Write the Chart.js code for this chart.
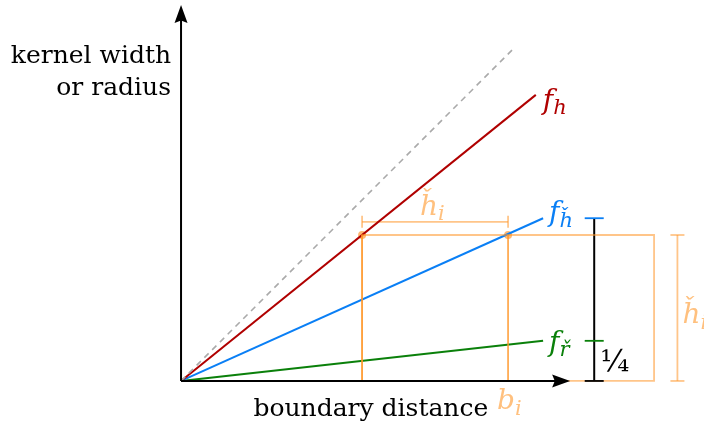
<!DOCTYPE html>
<html>
<head>
<meta charset="utf-8">
<script src="https://cdn.jsdelivr.net/npm/chart.js@4"></script>
<style>
  body { margin: 0; background: #fff; }
  canvas { display: block; }
</style>
</head>
<body>
<canvas id="chart" width="704" height="423"></canvas>
<script>
// values in units of the kernel width h-check (= 1)
const hCheck = 1;
const bI = 2.24;
const boxLeft = bI - hCheck;
const boxRight = 3.24;

const diagX = [0, 2.27];
const diagY = [0, 2.27];
const fhX = [0, 2.43];
const fhY = [0, 1.96];
const fhCheckX = [0, 2.48];
const fhCheckY = [0, 1.115];
const frCheckX = [0, 2.48];
const frCheckY = [0, 0.275];

const boxX = [boxLeft, boxRight, boxRight, boxLeft, boxLeft];
const boxY = [0, 0, hCheck, hCheck, 0];
const bLineX = [bI, bI];
const bLineY = [0, hCheck];
const markX = [boxLeft, bI];
const markY = [hCheck, hCheck];

const topBracketY = 1.09;
const rightBracketX = 3.40;
const ratioBracketX = 2.83;

const COLOR_RED = "#b00000";
const COLOR_BLUE = "#0a7ff5";
const COLOR_GREEN = "#0a800a";
const COLOR_ORANGE = "rgba(255,150,40,0.55)";
const COLOR_ORANGE_DARK = "rgba(255,150,40,0.8)";
const COLOR_GRAY = "#aaaaaa";
const SERIF = '"DejaVu Serif", "Liberation Serif", serif';

function pts(xs, ys) {
    return xs.map((x, i) => ({ x: x, y: ys[i] }));
}

function line(xs, ys, color, width, extra) {
    return Object.assign({
        data: pts(xs, ys),
        borderColor: color,
        backgroundColor: color,
        borderWidth: width,
        pointRadius: 0,
        showLine: true,
        fill: false,
        tension: 0
    }, extra || {});
}

let datasets = [
    line(boxX, boxY, COLOR_ORANGE, 1.8),
    line(bLineX, bLineY, COLOR_ORANGE_DARK, 1.8),
    line([boxLeft, boxLeft], [0, hCheck], COLOR_ORANGE_DARK, 1.8),
    line(diagX, diagY, COLOR_GRAY, 1.6, { borderDash: [6, 5] }),
    line(fhX, fhY, COLOR_RED, 2),
    line(fhCheckX, fhCheckY, COLOR_BLUE, 2),
    line(frCheckX, frCheckY, COLOR_GREEN, 2),
    // brackets
    line([boxLeft, bI], [topBracketY, topBracketY], COLOR_ORANGE, 1.8),
    line([rightBracketX, rightBracketX], [0, hCheck], COLOR_ORANGE, 1.8),
    line([ratioBracketX, ratioBracketX], [0, fhCheckY[1]], "#000", 2),
    // marked points
    { data: pts(markX, markY), showLine: false, pointRadius: 4, borderWidth: 0,
      backgroundColor: "rgba(255,160,70,0.75)" }
];

// tick ends of the brackets, half width in pixels
const bracketTicks = [
    { x: boxLeft, y: topBracketY, dir: "v", half: 6, color: COLOR_ORANGE },
    { x: bI, y: topBracketY, dir: "v", half: 6, color: COLOR_ORANGE },
    { x: rightBracketX, y: 0, dir: "h", half: 7, color: COLOR_ORANGE },
    { x: rightBracketX, y: hCheck, dir: "h", half: 7, color: COLOR_ORANGE },
    { x: ratioBracketX, y: fhCheckY[1], dir: "h", half: 9.5, color: COLOR_BLUE },
    { x: ratioBracketX, y: frCheckY[1], dir: "h", half: 9.5, color: COLOR_GREEN },
    { x: ratioBracketX, y: 0, dir: "h", half: 9.5, color: "#000" }
];

function arrowHead(ctx, x, y, dx, dy) {
    let len = 18, w = 6.5;
    let px = -dy, py = dx;
    ctx.beginPath();
    ctx.moveTo(x, y);
    ctx.lineTo(x - dx * len + px * w, y - dy * len + py * w);
    ctx.lineTo(x - dx * len * 0.85, y - dy * len * 0.85);
    ctx.lineTo(x - dx * len - px * w, y - dy * len - py * w);
    ctx.closePath();
    ctx.fill();
}

function mathLabel(ctx, x, y, base, sub, color, size) {
    ctx.fillStyle = color;
    ctx.textAlign = "left";
    ctx.textBaseline = "alphabetic";
    ctx.font = "italic " + size + "px " + SERIF;
    ctx.fillText(base, x, y);
    let w = ctx.measureText(base).width;
    ctx.font = "italic " + Math.round(size * 0.75) + "px " + SERIF;
    ctx.fillText(sub, x + w, y + size * 0.2);
}

const overlay = {
    id: "overlay",
    afterDatasetsDraw(chart) {
        const ctx = chart.ctx;
        const xs = chart.scales.x, ys = chart.scales.y;
        const X = v => xs.getPixelForValue(v);
        const Y = v => ys.getPixelForValue(v);
        ctx.save();

        bracketTicks.forEach(t => {
            ctx.strokeStyle = t.color;
            ctx.lineWidth = 1.8;
            ctx.beginPath();
            if (t.dir === "h") {
                ctx.moveTo(X(t.x) - t.half, Y(t.y));
                ctx.lineTo(X(t.x) + t.half, Y(t.y));
            } else {
                ctx.moveTo(X(t.x), Y(t.y) - t.half);
                ctx.lineTo(X(t.x), Y(t.y) + t.half);
            }
            ctx.stroke();
        });

        // axes
        let ox = X(0), oy = Y(0);
        let xEnd = X(2.665), yEnd = Y(2.575);
        ctx.strokeStyle = "#000";
        ctx.fillStyle = "#000";
        ctx.lineWidth = 2;
        ctx.beginPath();
        ctx.moveTo(ox, oy); ctx.lineTo(xEnd - 10, oy);
        ctx.moveTo(ox, oy); ctx.lineTo(ox, yEnd + 10);
        ctx.stroke();
        arrowHead(ctx, xEnd, oy, 1, 0);
        arrowHead(ctx, ox, yEnd, 0, -1);

        // axis titles
        ctx.font = "25px " + SERIF;
        ctx.textAlign = "right";
        ctx.textBaseline = "alphabetic";
        ctx.fillText("kernel width", ox - 10, 63);
        ctx.fillText("or radius", ox - 10, 95);
        ctx.textAlign = "center";
        ctx.fillText("boundary distance", X(1.3), oy + 35);

        // curve labels
        mathLabel(ctx, X(fhX[1]) + 7, Y(fhY[1]) + 14, "f", "h", COLOR_RED, 28);
        mathLabel(ctx, X(fhCheckX[1]) + 6, Y(fhCheckY[1]) + 3, "f", "ȟ", COLOR_BLUE, 28);
        mathLabel(ctx, X(frCheckX[1]) + 6, Y(frCheckY[1]) + 10, "f", "ř", COLOR_GREEN, 28);

        // orange labels
        const orangeText = "rgba(255,150,40,0.6)";
        mathLabel(ctx, X(bI) - 11, oy + 28, "b", "i", orangeText, 28);
        mathLabel(ctx, X((boxLeft + bI) / 2) - 15, Y(topBracketY) - 7, "ȟ", "i", orangeText, 28);
        mathLabel(ctx, X(rightBracketX) + 5, Y(hCheck / 2) + 15, "ȟ", "i", orangeText, 28);

        // ratio
        ctx.fillStyle = "#000";
        ctx.font = "30px " + SERIF;
        ctx.textAlign = "left";
        ctx.fillText("¼", X(ratioBracketX) + 6, Y(0) - 10);

        ctx.restore();
    }
};

new Chart(document.getElementById("chart"), {
    type: "scatter",
    data: { datasets: datasets },
    options: {
        responsive: false,
        devicePixelRatio: 1,
        animation: false,
        layout: { padding: 0, autoPadding: false },
        plugins: { legend: { display: false }, tooltip: { enabled: false } },
        scales: {
            x: { type: "linear", min: -1.24, max: 3.582, display: false },
            y: { type: "linear", min: -0.288, max: 2.610, display: false }
        }
    },
    plugins: [overlay]
});
</script>
</body>
</html>
